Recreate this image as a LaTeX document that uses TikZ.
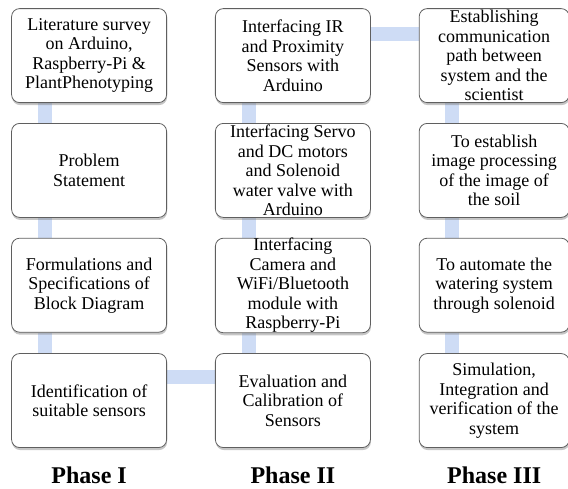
\documentclass[tikz,border=0pt]{standalone}
\usepackage{fontspec}
\setmainfont{Liberation Serif}
\usetikzlibrary{shadows,backgrounds,positioning}
\definecolor{linkblue}{RGB}{206,220,245}
\definecolor{edgegray}{RGB}{95,95,95}
\newcommand{\ampsign}{\char38\relax}

\begin{document}
\begin{tikzpicture}[x=1pt,y=-1pt,
   every matrix/.style={ampersand replacement=\&,column sep=48pt,row sep=20pt,inner sep=0pt},
   stage/.style={draw=edgegray,line width=0.8pt,rounded corners=8pt,fill=white,
      minimum width=155pt,minimum height=94pt,inner sep=0pt,align=center,
      font=\fontsize{18}{19.5}\selectfont,
      drop shadow={shadow xshift=0.5pt,shadow yshift=-2.5pt,opacity=0.45,fill=gray}},
   narrow/.style={stage,minimum width=150pt},
   link/.style={line width=14pt,draw=linkblue},
   phase/.style={font=\fontsize{24}{27}\selectfont\bfseries,inner sep=0pt}]
\useasboundingbox (0,0) rectangle (568,488);
\matrix[anchor=north west] at (11,8) {
\node[stage] (lit) {Literature survey\\on Arduino,\\Raspberry-Pi \ampsign\\PlantPhenotyping};\&
\node[stage] (irsens) {Interfacing IR\\and Proximity\\Sensors with\\Arduino};\&
\node[narrow] (comm) {Establishing\\communication\\path between\\system and the\\scientist};\\
\node[stage] (prob) {Problem\\Statement};\&
\node[stage] (servo) {Interfacing Servo\\and DC motors\\and Solenoid\\water valve with\\Arduino};\&
\node[narrow] (imgproc) {To establish\\image processing\\of the image of\\the soil};\\
\node[stage] (formul) {Formulations and\\Specifications of\\Block Diagram};\&
\node[stage] (camera) {Interfacing\\Camera and\\WiFi/Bluetooth\\module with\\Raspberry-Pi};\&
\node[narrow] (water) {To automate the\\watering system\\through solenoid};\\
\node[stage] (ident) {Identification of\\suitable sensors};\&
\node[stage] (eval) {Evaluation and\\Calibration of\\Sensors};\&
\node[narrow] (simul) {Simulation,\\Integration and\\verification of the\\system};\\
};
\node[phase,below=19pt of ident] (ph1) {Phase I};
\node[phase,below=19pt of eval] (ph2) {Phase II};
\node[phase,below=19pt of simul] (ph3) {Phase III};
\begin{scope}[on background layer]
\draw[link] ([xshift=33.5pt]lit.south west) -- ([xshift=33.5pt]prob.north west);
\draw[link] ([xshift=33.5pt]prob.south west) -- ([xshift=33.5pt]formul.north west);
\draw[link] ([xshift=33.5pt]formul.south west) -- ([xshift=33.5pt]ident.north west);
\draw[link] ([yshift=-24pt]ident.north east) -- ([yshift=-24pt]eval.north west);
\draw[link] ([xshift=33.5pt]eval.north west) -- ([xshift=33.5pt]camera.south west);
\draw[link] ([xshift=33.5pt]camera.north west) -- ([xshift=33.5pt]servo.south west);
\draw[link] ([xshift=33.5pt]servo.north west) -- ([xshift=33.5pt]irsens.south west);
\draw[link] ([yshift=-26pt]irsens.north east) -- ([yshift=-26pt]comm.north west);
\draw[link] ([xshift=33.5pt]comm.south west) -- ([xshift=33.5pt]imgproc.north west);
\draw[link] ([xshift=33.5pt]imgproc.south west) -- ([xshift=33.5pt]water.north west);
\draw[link] ([xshift=33.5pt]water.south west) -- ([xshift=33.5pt]simul.north west);
\end{scope}
\end{tikzpicture}
\end{document}
